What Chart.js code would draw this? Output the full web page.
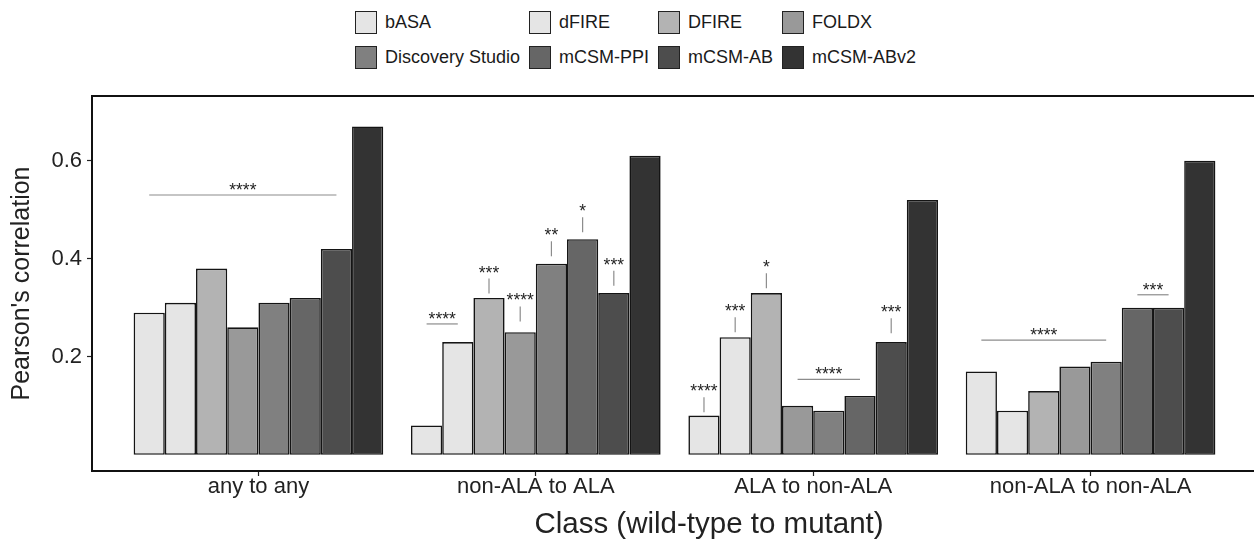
<!DOCTYPE html>
<html>
<head>
<meta charset="utf-8">
<title>Pearson's correlation by mutation class</title>
<script src="https://cdn.jsdelivr.net/npm/chart.js"></script>
<style>
    html, body { margin: 0; padding: 0; background: #fff; overflow: hidden; }
    body { width: 1254px; height: 544px; position: relative; font-family: "Liberation Sans", Arial, sans-serif; }
    #chart { position: absolute; left: 0; top: 0; }
    #legend {
        position: absolute; left: 355px; top: 11px;
        display: grid; grid-template-columns: repeat(4, auto);
        column-gap: 9px; row-gap: 12px;
    }
    .item { display: flex; align-items: center; height: 23px; font-size: 18px; color: #1a1a1a; white-space: nowrap; }
    .swatch { width: 22px; height: 23px; box-sizing: border-box; border: 1.5px solid #222; margin-right: 8px; }
</style>
</head>
<body>
<div id="legend"></div>
<canvas id="chart" width="1258" height="544"></canvas>
<script>
// Categories and series
const categories = ['any to any', 'non-ALA to ALA', 'ALA to non-ALA', 'non-ALA to non-ALA'];
const methods = ['bASA', 'dFIRE', 'DFIRE', 'FOLDX', 'Discovery Studio', 'mCSM-PPI', 'mCSM-AB', 'mCSM-ABv2'];

const bASA = [0.29, 0.06, 0.08, 0.17];
const dFIRE = [0.31, 0.23, 0.24, 0.09];
const DFIRE = [0.38, 0.32, 0.33, 0.13];
const FOLDX = [0.26, 0.25, 0.10, 0.18];
const discoveryStudio = [0.31, 0.39, 0.09, 0.19];
const mcsmPPI = [0.32, 0.44, 0.12, 0.30];
const mcsmAB = [0.42, 0.33, 0.23, 0.30];
const mcsmABv2 = [0.67, 0.61, 0.52, 0.60];

const yTicks = [0.2, 0.4, 0.6];

const yTitle = "Pearson's correlation";
const xTitle = 'Class (wild-type to mutant)';

// Significance: horizontal brackets spanning several bars of one group
const bracketGroup = [0, 1, 2, 3, 3];
const bracketFrom = [0, 0, 3, 0, 5];
const bracketTo = [6, 1, 5, 4, 6];
const bracketY = [0.53, 0.267, 0.154, 0.234, 0.3265];
const bracketStars = ['****', '****', '****', '****', '***'];

// Significance: short vertical marks above a single bar (y = bottom of mark)
const markGroup = [1, 1, 1, 1, 1, 2, 2, 2, 2];
const markBar = [2, 3, 4, 5, 6, 0, 1, 2, 6];
const markY = [0.329, 0.272, 0.405, 0.454, 0.345, 0.087, 0.25, 0.34, 0.248];
const markStars = ['***', '****', '**', '*', '***', '****', '***', '*', '***'];

const series = [bASA, dFIRE, DFIRE, FOLDX, discoveryStudio, mcsmPPI, mcsmAB, mcsmABv2];
const fills = ['#e5e5e5', '#e5e5e5', '#b3b3b3', '#999999', '#808080', '#666666', '#4d4d4d', '#333333'];

const FONT = '"Liberation Sans", Arial, sans-serif';

// HTML legend in a 4 column grid
const legend = document.getElementById('legend');
methods.forEach((m, i) => {
    const item = document.createElement('div');
    item.className = 'item';
    item.innerHTML = `<span class="swatch" style="background:${fills[i]}"></span>${m}`;
    legend.appendChild(item);
});

// Panel frame, significance marks and x title
const extras = {
    id: 'extras',
    afterDatasetsDraw(chart) {
        const ctx = chart.ctx;
        const y = chart.scales.y;
        const barX = (g, b) => chart.getDatasetMeta(b).data[g].x;
        const line = (x1, y1, x2, y2) => {
            ctx.beginPath();
            ctx.moveTo(x1, y1);
            ctx.lineTo(x2, y2);
            ctx.stroke();
        };
        ctx.save();
        ctx.strokeStyle = '#8c8c8c';
        ctx.lineWidth = 1.2;
        ctx.fillStyle = '#1f1f1f';
        ctx.font = '17.5px ' + FONT;
        ctx.textAlign = 'center';
        ctx.textBaseline = 'alphabetic';

        bracketGroup.forEach((g, i) => {
            const x1 = barX(g, bracketFrom[i]);
            const x2 = barX(g, bracketTo[i]);
            const py = y.getPixelForValue(bracketY[i]);
            line(x1, py, x2, py);
            ctx.fillText(bracketStars[i], (x1 + x2) / 2, py + 1);
        });

        markGroup.forEach((g, i) => {
            const px = barX(g, markBar[i]);
            const py = y.getPixelForValue(markY[i]);
            line(px, py, px, py - 15);
            ctx.fillText(markStars[i], px, py - 15);
        });
        ctx.restore();
    },
    afterDraw(chart) {
        const ctx = chart.ctx;
        const a = chart.chartArea;
        ctx.save();
        ctx.strokeStyle = '#111';
        ctx.lineWidth = 2;
        ctx.strokeRect(a.left, a.top, a.right - a.left, a.bottom - a.top);

        ctx.fillStyle = '#222';
        ctx.font = '29.5px ' + FONT;
        ctx.textAlign = 'center';
        ctx.textBaseline = 'middle';
        ctx.fillText(xTitle, 709, 525);
        ctx.restore();
    }
};

new Chart(document.getElementById('chart'), {
    type: 'bar',
    data: {
        datasets: methods.map((m, i) => ({
            label: m,
            data: series[i].map((v, j) => ({ x: j, y: v })),
            backgroundColor: fills[i],
            borderColor: '#141414',
            borderWidth: 1.6,
            borderSkipped: false,
            categoryPercentage: 0.9,
            barPercentage: 1
        }))
    },
    options: {
        responsive: false,
        animation: false,
        layout: { padding: { top: 96, left: 0, right: 1, bottom: 0 } },
        plugins: {
            legend: { display: false },
            tooltip: { enabled: false }
        },
        scales: {
            x: {
                type: 'linear',
                min: -0.6,
                max: 3.6,
                offset: false,
                afterBuildTicks: s => { s.ticks = categories.map((c, i) => ({ value: i })); },
                afterFit: s => { s.height = 73; },
                ticks: {
                    callback: (v, i) => categories[i],
                    font: { family: FONT, size: 22 },
                    color: '#222',
                    padding: -2,
                    maxRotation: 0,
                    autoSkip: false
                },
                grid: { offset: false, drawOnChartArea: false, tickLength: 5, tickColor: '#222', tickWidth: 1.2 },
                border: { display: false }
            },
            y: {
                min: -0.033,
                max: 0.732,
                afterBuildTicks: s => { s.ticks = yTicks.map(v => ({ value: v })); },
                afterFit: s => { s.width = 92; },
                ticks: {
                    callback: v => v.toFixed(1),
                    font: { family: FONT, size: 22 },
                    color: '#222',
                    padding: 5
                },
                grid: { drawOnChartArea: false, tickLength: 5, tickColor: '#222', tickWidth: 1.2 },
                border: { display: false },
                title: {
                    display: true,
                    text: yTitle,
                    font: { family: FONT, size: 25 },
                    color: '#222',
                    padding: { top: 7, bottom: 0 }
                }
            }
        }
    },
    plugins: [extras]
});
</script>
</body>
</html>
